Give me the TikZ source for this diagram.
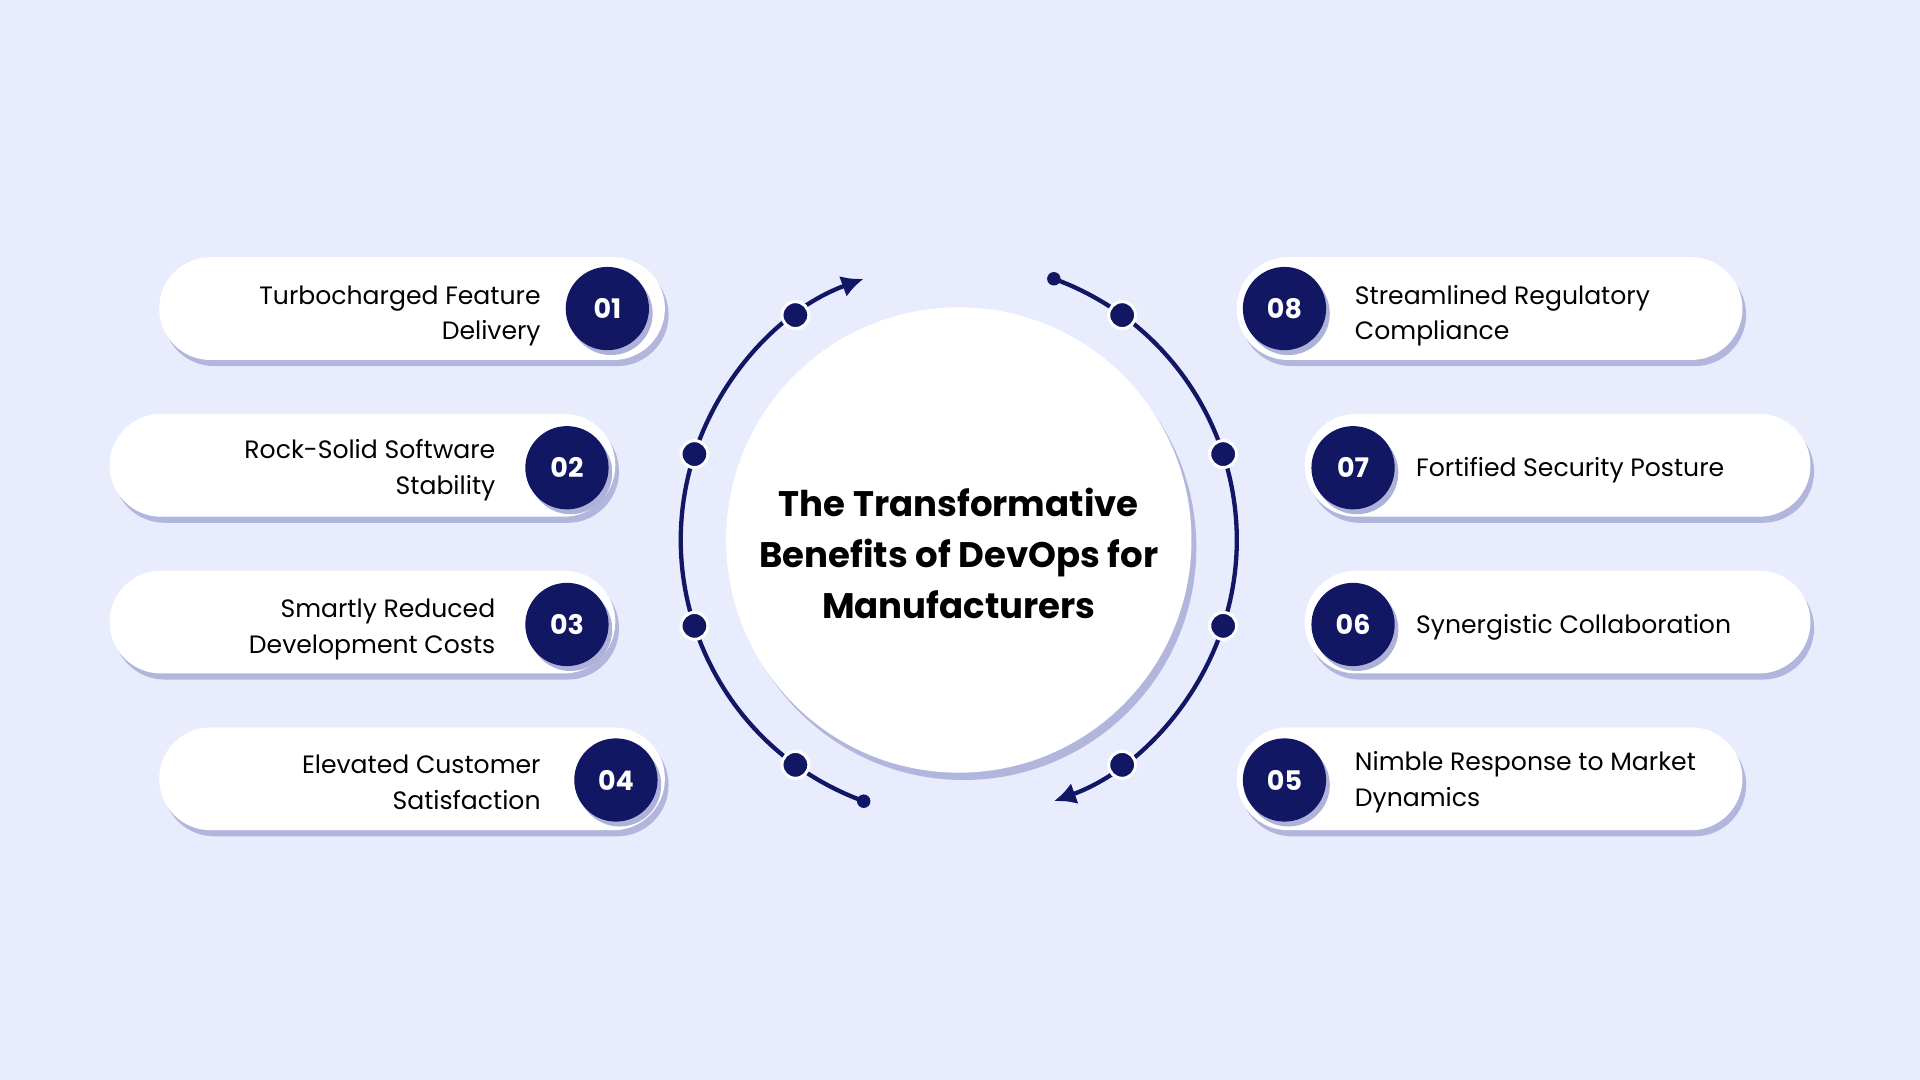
\documentclass[tikz,border=0pt]{standalone}
\usepackage{fontspec}
\setmainfont{Poppins}
\usetikzlibrary{shadows,arrows.meta}
\definecolor{bg}{HTML}{E8ECFD}
\definecolor{navy}{HTML}{111763}
\definecolor{shd}{HTML}{8E92C8}
\tikzset{
 pill/.style={fill=white,rounded corners=42pt,minimum width=413pt,minimum height=84pt,
   drop shadow={shadow xshift=3pt,shadow yshift=-5pt,fill=shd,opacity=0.6}},
 num/.style={circle,fill=navy,minimum size=68pt,text=white,font=\fontsize{22}{26}\selectfont\bfseries,
   drop shadow={shadow xshift=3pt,shadow yshift=-4pt,fill=shd,opacity=0.7}},
 ltxt/.style={anchor=east,align=right,font=\fontsize{20.5}{29}\selectfont},
 rtxt/.style={anchor=west,align=left,font=\fontsize{20.5}{29}\selectfont},
 ring/.style={draw=navy,line width=3.5pt},
 rdot/.style={circle,fill=navy,draw=white,line width=2.5pt,minimum size=22pt,inner sep=0},
 edot/.style={circle,fill=navy,minimum size=11pt,inner sep=0}
}
\begin{document}
\begin{tikzpicture}[x=1pt,y=1pt]
\fill[bg] (0,0) rectangle (1568,882);
\useasboundingbox (0,0) rectangle (1568,882);
% center
\node[circle,fill=white,minimum size=380pt,drop shadow={shadow xshift=4pt,shadow yshift=-6pt,fill=shd,opacity=0.6}] (c) at (783,441) {};
\node[align=center,font=\fontsize{29}{42}\selectfont\bfseries] (title) at (783,430) {The Transformative\\Benefits of DevOps for\\Manufacturers};
% rings
\draw[ring,-{Latex[length=18pt,width=18pt]}] ([shift={(250:227)}]c.center) arc[start angle=250,end angle=110,radius=227] coordinate (la);
\draw[ring,-{Latex[length=18pt,width=18pt]}] ([shift={(70:227)}]c.center) arc[start angle=70,end angle=-70,radius=227] coordinate (ra);
\node[edot] (e1) at ([shift={(250:227)}]c.center) {};
\node[edot] (e2) at ([shift={(70:227)}]c.center) {};
\foreach \a/\n in {126/d1,162/d2,198/d3,234/d4,54/d8,18/d7,-18/d6,-54/d5}
  \node[rdot] (\n) at ([shift={(\a:227)}]c.center) {};
% left pills
\node[pill] (p1) at (336.5,630) {};
\node[pill] (p2) at (296,502) {};
\node[pill] (p3) at (296,374) {};
\node[pill] (p4) at (336.5,246) {};
\node[num] (n1) at (496,630) {01};
\node[num] (n2) at (463,500) {02};
\node[num] (n3) at (463,372) {03};
\node[num] (n4) at (503,245) {04};
\node[ltxt] (t1) at (445,624) {Turbocharged Feature\\Delivery};
\node[ltxt] (t2) at (408,498) {Rock-Solid Software\\Stability};
\node[ltxt] (t3) at (408,368) {Smartly Reduced\\Development Costs};
\node[ltxt] (t4) at (445,243) {Elevated Customer\\Satisfaction};
% right pills
\node[pill] (p8) at (1216.5,630) {};
\node[pill] (p7) at (1272,502) {};
\node[pill] (p6) at (1272,374) {};
\node[pill] (p5) at (1216.5,246) {};
\node[num] (n8) at (1049,630) {08};
\node[num] (n7) at (1105,500) {07};
\node[num] (n6) at (1105,372) {06};
\node[num] (n5) at (1049,245) {05};
\node[rtxt] (t8) at (1103,624) {Streamlined Regulatory\\Compliance};
\node[rtxt] (t7) at (1153,498) {Fortified Security Posture};
\node[rtxt] (t6) at (1153,370) {Synergistic Collaboration};
\node[rtxt] (t5) at (1103,243) {Nimble Response to Market\\Dynamics};
\end{tikzpicture}
\end{document}
